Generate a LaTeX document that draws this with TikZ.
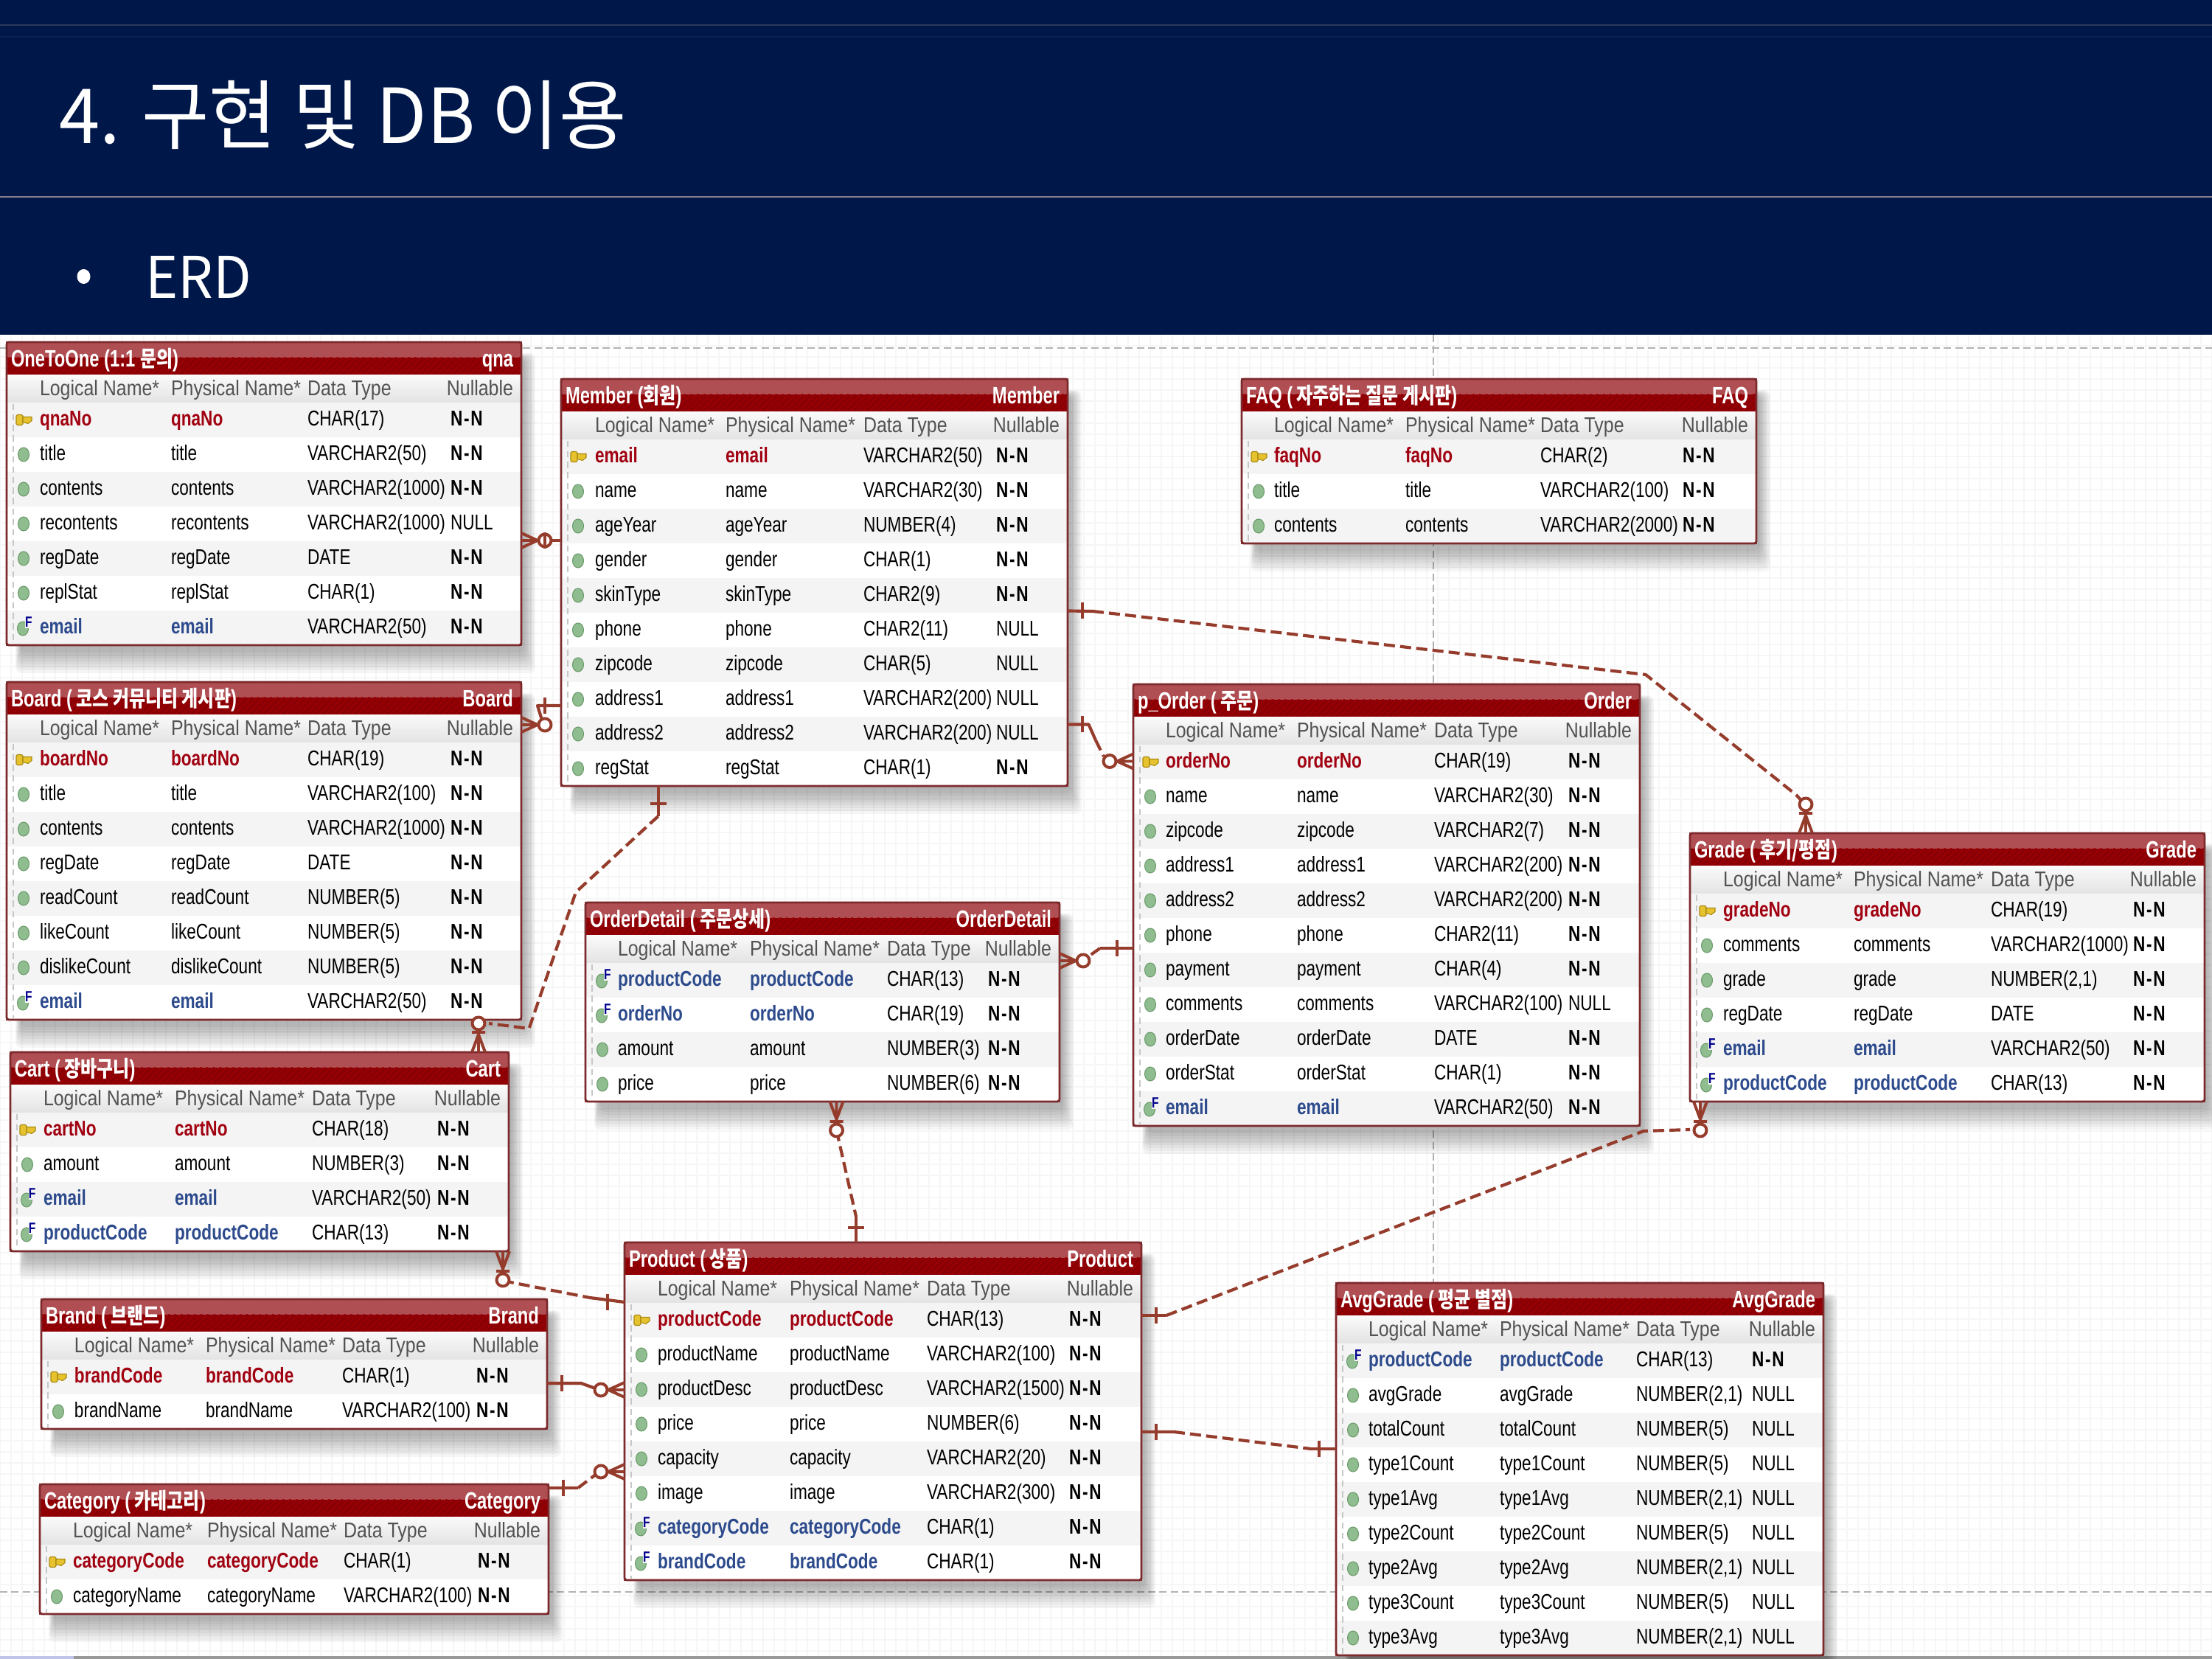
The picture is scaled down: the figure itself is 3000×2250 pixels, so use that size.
\documentclass[tikz,border=0pt]{standalone}
\usepackage{fontspec}
\usetikzlibrary{patterns.meta}
\newfontfamily\rowfam[FakeStretch=0.78]{Liberation Sans}
\newfontfamily\headfam[FakeStretch=0.86]{Liberation Sans}
\newfontfamily\titfam[FakeStretch=0.74]{Liberation Sans}
\newfontfamily\tko[FakeStretch=0.8]{Noto Sans CJK KR}
\newfontfamily\pageko[FakeStretch=0.965]{Noto Sans CJK KR}
\newcommand\rowf{\rowfam\fontsize{6.96}{8}\selectfont}
\newcommand\headf{\headfam\fontsize{6.96}{8}\selectfont}
\newcommand\titf{\titfam\bfseries\fontsize{7.7}{9}\selectfont}
\newcommand\hg[1]{{\tko\fontsize{7.2}{9}\selectfont #1}}
\definecolor{navy}{HTML}{00174A}
\definecolor{rowgray}{HTML}{F4F4F4}
\definecolor{gridc}{HTML}{F6F6F6}
\definecolor{borderc}{HTML}{7D2A2D}
\definecolor{titlow}{HTML}{8A0006}
\definecolor{titup}{HTML}{AF4E53}
\definecolor{pkred}{HTML}{A00010}
\definecolor{fkblue}{HTML}{2C4A8C}
\definecolor{relc}{HTML}{963C2C}
\definecolor{attrg}{HTML}{8FBD8F}
\definecolor{attre}{HTML}{6A9A6A}
\definecolor{goldk}{HTML}{E6C22E}
\definecolor{goldd}{HTML}{A98A10}
\definecolor{slidea}{HTML}{2E3A5C}
\definecolor{slideb}{HTML}{0C2152}
\definecolor{slidec}{HTML}{857F8E}
\tikzset{
  tablebox/.style={rectangle,draw=borderc,fill=white,line width=.7pt,inner sep=0pt,outer sep=0pt},
  tableline/.style={draw=borderc,line width=.7pt},
  celltext/.style={inner sep=0pt,outer sep=0pt,font=\rowf},
  headtext/.style={inner sep=0pt,outer sep=0pt,font=\headf,text=black!68},
  titletext/.style={inner sep=0pt,outer sep=0pt,font=\titf,text=white},
  dotline/.style={draw=black!22,line width=.3pt,dash pattern=on 2pt off 1.4pt},
  pagedash/.style={draw=black!30,line width=.36pt,dash pattern=on 2.4pt off 1.3pt},
  gridl/.style={draw=gridc,line width=.3pt},
  relsolid/.style={draw=relc,line width=1pt,line join=round},
  reldash/.style={draw=relc,line width=1pt,line join=round,dash pattern=on 3.6pt off 1.7pt},
  relmark/.style={draw=relc,line width=.95pt,line join=round},
}
\newcount\erdrown
\newcommand\erdcols[4]{\def\colA{#1}\def\colB{#2}\def\colC{#3}\def\colD{#4}}
% name, x0, y0, x1, rows, title, physical title
\newcommand\erdtable[7]{%
  \def\ename{#1}\def\ex{#2}\def\ey{#3}\def\exr{#4}%
  \pgfmathsetmacro\eyb{#3+82+47*#5}%
  \pgfmathsetmacro\ew{(#4-#2)*0.24}%
  \pgfmathsetmacro\eh{(\eyb-#3)*0.24}%
  \foreach \k in {0,...,7}{%
    \fill[black,opacity=.04,rounded corners=2pt] (\ex+12+\k,\ey+15+\k) rectangle (\exr+19-2*\k,\eyb+38-4*\k);}
  \node[tablebox,anchor=north west,minimum width=\ew pt,minimum height=\eh pt] (#1) at (#2,#3) {};
  \fill[titlow,rounded corners=.9pt] (\ex,\ey+45) -- (\ex,\ey) -- (\exr,\ey) -- (\exr,\ey+45) -- cycle;
  \fill[titup,rounded corners=.9pt] (\ex,\ey+21) -- (\ex,\ey) -- (\exr,\ey) -- (\exr,\ey+21) -- cycle;
  \fill[pattern={Lines[angle=45,distance=1.5pt,line width=.35pt]},pattern color=red!62!black] (\ex,\ey+21) rectangle (\exr,\ey+45);
  \shade[top color=white!98!black,bottom color=black!11] (\ex,\ey+45) rectangle (\exr,\ey+82);
  \node[titletext,anchor=base west] (#1title) at (\ex+6,\ey+34) {#6};
  \node[titletext,anchor=base east] (#1code) at (\exr-11,\ey+34) {#7};
  \node[headtext,anchor=base west] (#1ha) at (\colA,\ey+73) {Logical Name*};
  \node[headtext,anchor=base west] (#1hb) at (\colB,\ey+73) {Physical Name*};
  \node[headtext,anchor=base west] (#1hc) at (\colC,\ey+73) {Data Type};
  \node[headtext,anchor=base east] (#1hd) at (\exr-11,\ey+73) {Nullable};
  \erdrown=0
}
\newcommand\erdend{%
  \draw[dotline] (\ex+9,\ey+84) -- (\ex+9,\eyb-2);
  \draw[tableline,rounded corners=.7pt] (\ename.north west) rectangle (\ename.south east);
}
\newcommand\erdiconA{%
  \fill[attrg,draw=attre,line width=.25pt] (\ex+23,\rmid) ellipse [x radius=7.5,y radius=9.5];}
\newcommand\erdiconK{%
  \fill[goldk,draw=goldd,line width=.25pt,rounded corners=.4pt] (\ex+13,\rmid-7) rectangle (\ex+22,\rmid+7);
  \fill[goldk,draw=goldd,line width=.25pt] (\ex+22,\rmid-4) -- (\ex+34,\rmid-4) -- (\ex+34,\rmid+1) -- (\ex+29,\rmid+5) -- (\ex+22,\rmid+3) -- cycle;}
\newcommand\erdiconF{%
  \fill[attrg,draw=attre,line width=.25pt] (\ex+22,\rmid+1) ellipse [x radius=7.5,y radius=9.5];
  \fill[\rcol] (\ex+25,\rmid-12) rectangle (\ex+36,\rmid+1);
  \node[inner sep=0pt,outer sep=0pt,anchor=base west,text=blue!55!black,font=\rowfam\bfseries\fontsize{4.8}{5}\selectfont] (\ename r\the\erdrown f) at (\ex+25,\rmid-1) {F};}
\newcommand\erdstyleA{\def\tcol{black}\def\tfnt{}}
\newcommand\erdstyleK{\def\tcol{pkred}\def\tfnt{\bfseries}}
\newcommand\erdstyleF{\def\tcol{fkblue}\def\tfnt{\bfseries}}
\newcommand\erdnullN{\bfseries N\kern.06em-\kern.06em N}
\newcommand\erdnullU{NULL}
% icon, name, type, null
\newcommand\erdrow[4]{%
  \pgfmathsetmacro\rtop{\ey+82+47*\the\erdrown}%
  \pgfmathsetmacro\rmid{\rtop+23.5}%
  \pgfmathsetmacro\rbase{\rtop+32}%
  \ifodd\erdrown \def\rcol{white}\else\def\rcol{rowgray}\fi
  \fill[\rcol] (\ex,\rtop) rectangle (\exr,\rtop+47);
  \csname erdicon#1\endcsname
  \csname erdstyle#1\endcsname
  \node[celltext,anchor=base west,text=\tcol] (\ename r\the\erdrown a) at (\colA,\rbase) {\tfnt #2};
  \node[celltext,anchor=base west,text=\tcol] (\ename r\the\erdrown b) at (\colB,\rbase) {\tfnt #2};
  \node[celltext,anchor=base west] (\ename r\the\erdrown c) at (\colC,\rbase) {#3};
  \node[celltext,anchor=base west] (\ename r\the\erdrown d) at (\colD,\rbase) {\csname erdnull#4\endcsname};
  \advance\erdrown by 1
}
% crow's foot + circle: point, outward angle
\newcommand\crowo[2]{%
  \begin{scope}[shift={(#1)},rotate=#2]
    \draw[relmark] (0,-10) -- (22,0) -- (0,10) (0,0) -- (22,0);
    \draw[relmark,fill=white] (32,0) circle [radius=8.5];
  \end{scope}}
% crow's foot + bar + circle
\newcommand\crowb[2]{%
  \begin{scope}[shift={(#1)},rotate=#2]
    \draw[relmark] (0,-9) -- (24,0) -- (0,9) (0,0) -- (24,0) (27,-9) -- (27,9);
    \draw[relmark,fill=white] (39,0) circle [radius=8.5];
  \end{scope}}
% one bar: point, outward angle, distance
\newcommand\onebar[3]{%
  \begin{scope}[shift={(#1)},rotate=#2]
    \draw[relmark] (#3,-11) -- (#3,11);
  \end{scope}}
\begin{document}
\begin{tikzpicture}[x=0.24pt,y=-0.24pt]
\useasboundingbox (0,0) rectangle (3000,2250);
% slide
\fill[navy] (0,0) rectangle (3000,454);
\draw[draw=slidea,line width=.25pt] (0,34) -- (3000,34);
\draw[draw=slideb,line width=.25pt] (0,50) -- (3000,50);
\draw[draw=slidec,line width=.6pt] (0,267) -- (3000,267);
\node[inner sep=0pt,outer sep=0pt,anchor=base west,text=white,font=\pageko\fontsize{24.7}{28}\selectfont] (slidetitle) at (80,195) {4. 구현 및 DB 이용};
\fill[white] (113.5,375) ellipse [x radius=9,y radius=10];
\node[inner sep=0pt,outer sep=0pt,anchor=base west,text=white,font=\pageko\fontsize{18.7}{22}\selectfont] (erdlabel) at (197,405) {ERD};
% canvas
\fill[white] (0,454) rectangle (3000,2250);
\foreach \gx in {0,15,...,3000}{\draw[gridl] (\gx,454) -- (\gx,2248);}
\foreach \gy in {469,484,...,2248}{\draw[gridl] (0,\gy) -- (3000,\gy);}
\draw[pagedash] (0,472) -- (3000,472);
\draw[pagedash] (0,2159) -- (3000,2159);
\draw[pagedash] (1944,454) -- (1944,2248);
\fill[black!40] (0,2246) rectangle (3000,2250);
\fill[cyan!30!blue!25!white] (0,2246) rectangle (100,2250);
% ---- tables
\erdcols{54}{232}{417}{611}
\erdtable{onetoone}{9}{464}{707}{7}{OneToOne (1:1 \hg{문의})}{qna}
\erdrow{K}{qnaNo}{CHAR(17)}{N}
\erdrow{A}{title}{VARCHAR2(50)}{N}
\erdrow{A}{contents}{VARCHAR2(1000)}{N}
\erdrow{A}{recontents}{VARCHAR2(1000)}{U}
\erdrow{A}{regDate}{DATE}{N}
\erdrow{A}{replStat}{CHAR(1)}{N}
\erdrow{F}{email}{VARCHAR2(50)}{N}
\erdend

\erdcols{807}{984}{1171}{1351}
\erdtable{member}{761}{514}{1448}{10}{Member (\hg{회원})}{Member}
\erdrow{K}{email}{VARCHAR2(50)}{N}
\erdrow{A}{name}{VARCHAR2(30)}{N}
\erdrow{A}{ageYear}{NUMBER(4)}{N}
\erdrow{A}{gender}{CHAR(1)}{N}
\erdrow{A}{skinType}{CHAR2(9)}{N}
\erdrow{A}{phone}{CHAR2(11)}{U}
\erdrow{A}{zipcode}{CHAR(5)}{U}
\erdrow{A}{address1}{VARCHAR2(200)}{U}
\erdrow{A}{address2}{VARCHAR2(200)}{U}
\erdrow{A}{regStat}{CHAR(1)}{N}
\erdend

\erdcols{1728}{1906}{2089}{2282}
\erdtable{faq}{1684}{514}{2382}{3}{FAQ (\,\hg{자주하는 질문 게시판})}{FAQ}
\erdrow{K}{faqNo}{CHAR(2)}{N}
\erdrow{A}{title}{VARCHAR2(100)}{N}
\erdrow{A}{contents}{VARCHAR2(2000)}{N}
\erdend

\erdcols{54}{232}{417}{611}
\erdtable{board}{9}{925}{707}{8}{Board (\,\hg{코스 커뮤니티 게시판})}{Board}
\erdrow{K}{boardNo}{CHAR(19)}{N}
\erdrow{A}{title}{VARCHAR2(100)}{N}
\erdrow{A}{contents}{VARCHAR2(1000)}{N}
\erdrow{A}{regDate}{DATE}{N}
\erdrow{A}{readCount}{NUMBER(5)}{N}
\erdrow{A}{likeCount}{NUMBER(5)}{N}
\erdrow{A}{dislikeCount}{NUMBER(5)}{N}
\erdrow{F}{email}{VARCHAR2(50)}{N}
\erdend

\erdcols{1581}{1759}{1945}{2127}
\erdtable{porder}{1537}{928}{2224}{11}{p\_Order (\,\hg{주문})}{Order}
\erdrow{K}{orderNo}{CHAR(19)}{N}
\erdrow{A}{name}{VARCHAR2(30)}{N}
\erdrow{A}{zipcode}{VARCHAR2(7)}{N}
\erdrow{A}{address1}{VARCHAR2(200)}{N}
\erdrow{A}{address2}{VARCHAR2(200)}{N}
\erdrow{A}{phone}{CHAR2(11)}{N}
\erdrow{A}{payment}{CHAR(4)}{N}
\erdrow{A}{comments}{VARCHAR2(100)}{U}
\erdrow{A}{orderDate}{DATE}{N}
\erdrow{A}{orderStat}{CHAR(1)}{N}
\erdrow{F}{email}{VARCHAR2(50)}{N}
\erdend

\erdcols{2337}{2514}{2700}{2893}
\erdtable{grade}{2292}{1130}{2990}{6}{Grade (\,\hg{후기/평점})}{Grade}
\erdrow{K}{gradeNo}{CHAR(19)}{N}
\erdrow{A}{comments}{VARCHAR2(1000)}{N}
\erdrow{A}{grade}{NUMBER(2,1)}{N}
\erdrow{A}{regDate}{DATE}{N}
\erdrow{F}{email}{VARCHAR2(50)}{N}
\erdrow{F}{productCode}{CHAR(13)}{N}
\erdend

\erdcols{838}{1017}{1203}{1340}
\erdtable{orderdetail}{794}{1224}{1437}{4}{OrderDetail (\,\hg{주문상세})}{OrderDetail}
\erdrow{F}{productCode}{CHAR(13)}{N}
\erdrow{F}{orderNo}{CHAR(19)}{N}
\erdrow{A}{amount}{NUMBER(3)}{N}
\erdrow{A}{price}{NUMBER(6)}{N}
\erdend

\erdcols{59}{237}{423}{593}
\erdtable{cart}{14}{1427}{690}{4}{Cart (\,\hg{장바구니})}{Cart}
\erdrow{K}{cartNo}{CHAR(18)}{N}
\erdrow{A}{amount}{NUMBER(3)}{N}
\erdrow{F}{email}{VARCHAR2(50)}{N}
\erdrow{F}{productCode}{CHAR(13)}{N}
\erdend

\erdcols{892}{1071}{1257}{1450}
\erdtable{product}{847}{1685}{1548}{8}{Product (\,\hg{상품})}{Product}
\erdrow{K}{productCode}{CHAR(13)}{N}
\erdrow{A}{productName}{VARCHAR2(100)}{N}
\erdrow{A}{productDesc}{VARCHAR2(1500)}{N}
\erdrow{A}{price}{NUMBER(6)}{N}
\erdrow{A}{capacity}{VARCHAR2(20)}{N}
\erdrow{A}{image}{VARCHAR2(300)}{N}
\erdrow{F}{categoryCode}{CHAR(1)}{N}
\erdrow{F}{brandCode}{CHAR(1)}{N}
\erdend

\erdcols{101}{279}{464}{646}
\erdtable{brand}{56}{1762}{742}{2}{Brand (\,\hg{브랜드})}{Brand}
\erdrow{K}{brandCode}{CHAR(1)}{N}
\erdrow{A}{brandName}{VARCHAR2(100)}{N}
\erdend

\erdcols{99}{281}{466}{648}
\erdtable{category}{54}{2013}{744}{2}{Category (\,\hg{카테고리})}{Category}
\erdrow{K}{categoryCode}{CHAR(1)}{N}
\erdrow{A}{categoryName}{VARCHAR2(100)}{N}
\erdend

\erdcols{1856}{2034}{2219}{2376}
\erdtable{avggrade}{1812}{1740}{2473}{9}{AvgGrade (\,\hg{평균 별점})}{AvgGrade}
\erdrow{F}{productCode}{CHAR(13)}{N}
\erdrow{A}{avgGrade}{NUMBER(2,1)}{U}
\erdrow{A}{totalCount}{NUMBER(5)}{U}
\erdrow{A}{type1Count}{NUMBER(5)}{U}
\erdrow{A}{type1Avg}{NUMBER(2,1)}{U}
\erdrow{A}{type2Count}{NUMBER(5)}{U}
\erdrow{A}{type2Avg}{NUMBER(2,1)}{U}
\erdrow{A}{type3Count}{NUMBER(5)}{U}
\erdrow{A}{type3Avg}{NUMBER(2,1)}{U}
\erdend

% ---- relationships
% Member - OneToOne
\coordinate (a1) at (member.west |- 0,733);
\coordinate (a2) at (onetoone.east |- 0,733);
\draw[relsolid] (a1) -- (a2);
\crowo{a2}{0}
\onebar{a1}{180}{22}
% Member - Board
\coordinate (b1) at (member.west |- 0,957);
\coordinate (b2) at (board.east |- 0,983);
\coordinate (b3) at (729,957);
\draw[relsolid] (b1) -- (b3) -- (b2 -| 737,0);
\crowo{b2}{0}
\onebar{b1}{180}{22}
% Member - Cart
\coordinate (c1) at (member.south -| 892.6,0);
\coordinate (c2) at (892.6,1107);
\coordinate (c3) at (781,1210);
\coordinate (c4) at (717.5,1395);
\coordinate (c5) at (cart.north -| 649,0);
\coordinate (c6) at (663,1388);
\draw[relsolid] (c1) -- (c2);
\draw[reldash] (c2) -- (c3) -- (c4) -- (c6);
\crowb{c5}{90}
\onebar{c1}{-90}{24}
% Member - Grade
\coordinate (d1) at (member.east |- 0,828.5);
\coordinate (d2) at (1482,829);
\coordinate (d3) at (2232,915);
\coordinate (d4) at (2436,1078);
\coordinate (d5) at (grade.north -| 2449,0);
\draw[relsolid] (d1) -- (d2);
\draw[reldash] (d2) -- (d3) -- (d4);
\draw[relsolid] (d4) -- (2449,1092);
\crowb{d5}{90}
\onebar{d1}{0}{20}
% Member - p_Order
\coordinate (e1) at (member.east |- 0,982.5);
\coordinate (e2) at (porder.west |- 0,1032.5);
\coordinate (e3) at (1476.5,982.5);
\coordinate (e4) at (1486,1004);
\draw[relsolid] (e1) -- (e3) -- (e4);
\draw[reldash] (e4) -- (1497,1026);
\crowo{e2}{180}
\onebar{e1}{0}{20}
% p_Order - OrderDetail
\coordinate (f1) at (porder.west |- 0,1286);
\coordinate (f2) at (orderdetail.east |- 0,1303);
\coordinate (f3) at (1492,1286);
\draw[relsolid] (f1) -- (f3);
\draw[reldash] (f3) -- (1468,1303);
\crowo{f2}{0}
\onebar{f1}{180}{22}
% OrderDetail - Product
\coordinate (g1) at (orderdetail.south -| 1134.5,0);
\coordinate (g2) at (product.north -| 1161,0);
\coordinate (g3) at (1161,1650);
\draw[reldash] (1134.5,1533) -- (g3);
\draw[relsolid] (g3) -- (g2);
\crowb{g1}{-90}
\onebar{g2}{90}{20}
% Cart - Product
\coordinate (h1) at (cart.south -| 682,0);
\coordinate (h2) at (product.west |- 0,1766);
\coordinate (h3) at (800,1760);
\draw[reldash] (682,1737) -- (h3);
\draw[relsolid] (h3) -- (h2);
\crowb{h1}{-90}
\onebar{h2}{180}{23}
% Brand - Product
\coordinate (i1) at (brand.east |- 0,1876);
\coordinate (i2) at (product.west |- 0,1885);
\coordinate (i3) at (788,1876);
\draw[relsolid] (i1) -- (i3) -- (813,1885);
\crowo{i2}{180}
\onebar{i1}{0}{20}
% Category - Product
\coordinate (j1) at (category.east |- 0,2018);
\coordinate (j2) at (product.west |- 0,1996);
\coordinate (j3) at (784,2018);
\draw[relsolid] (j1) -- (j3);
\draw[reldash] (j3) -- (813,1996);
\crowo{j2}{180}
\onebar{j1}{0}{20}
% Product - Grade
\coordinate (k1) at (product.east |- 0,1784);
\coordinate (k2) at (grade.south -| 2306,0);
\coordinate (k3) at (1582,1784);
\coordinate (k4) at (2229,1534);
\draw[relsolid] (k1) -- (k3);
\draw[reldash] (k3) -- (k4) -- (2292,1532);
\crowb{k2}{-90}
\onebar{k1}{0}{20}
% Product - AvgGrade
\coordinate (l1) at (product.east |- 0,1942);
\coordinate (l2) at (avggrade.west |- 0,1965);
\coordinate (l3) at (1592,1942);
\coordinate (l4) at (1778,1965);
\draw[relsolid] (l1) -- (l3);
\draw[reldash] (l3) -- (l4);
\draw[relsolid] (l4) -- (l2);
\onebar{l1}{0}{20}
\onebar{l2}{180}{23}
\end{tikzpicture}
\end{document}
